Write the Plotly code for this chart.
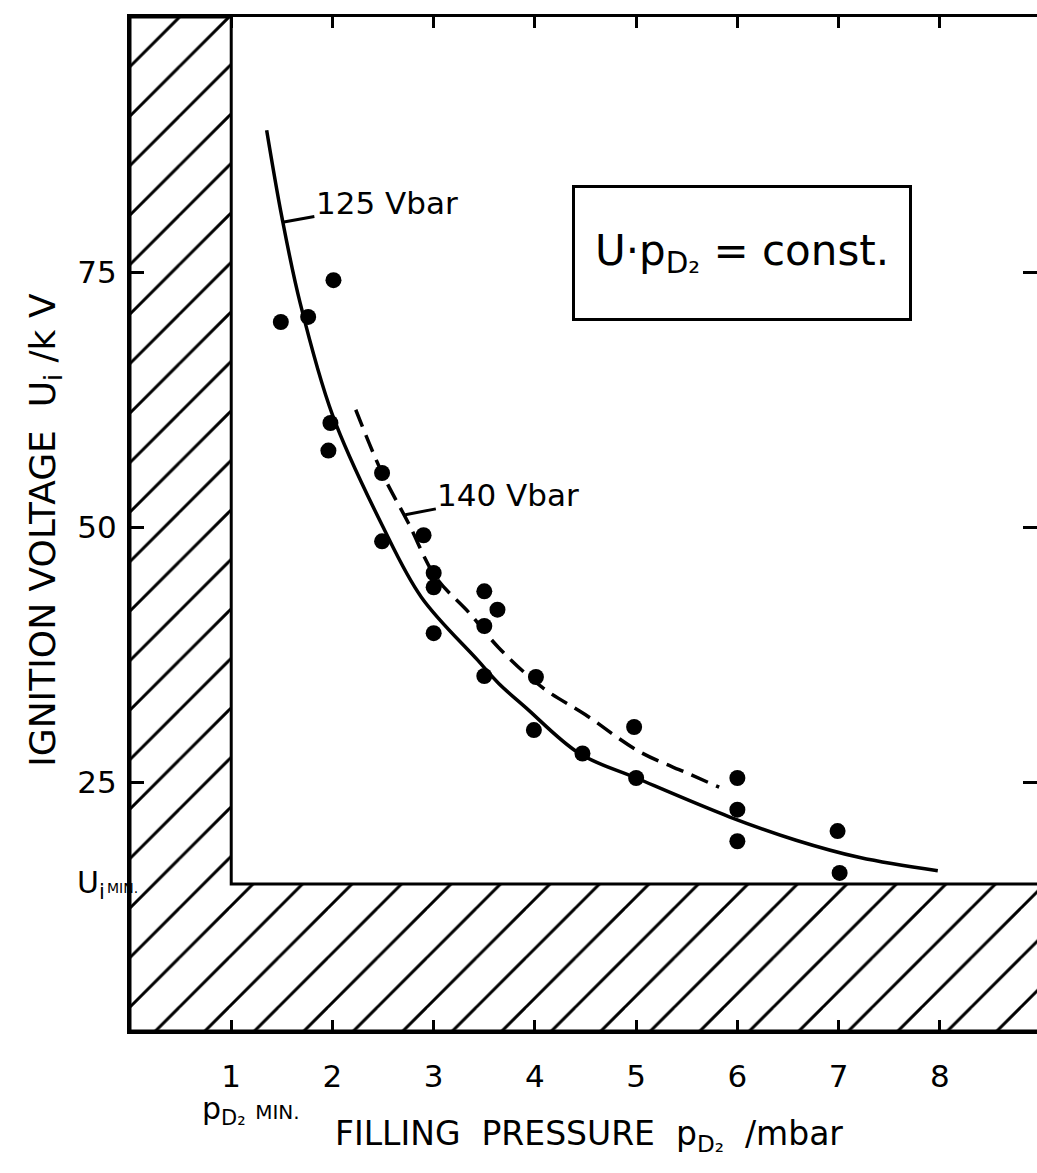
import plotly.graph_objects as go

# ---- data ----
meas_p = [1.49, 1.76, 2.01, 1.98, 1.96, 2.49, 2.49, 2.90, 3.00, 3.00, 3.00, 3.50, 3.63,
          3.50, 3.50, 4.01, 3.99, 4.47, 4.98, 5.00, 6.00, 6.00, 6.00, 6.99, 7.01]
meas_u = [70.1, 70.6, 74.2, 60.2, 57.5, 55.3, 48.6, 49.2, 45.5, 44.1, 39.6, 43.7, 41.9,
          40.3, 35.4, 35.3, 30.1, 27.8, 30.4, 25.4, 25.4, 22.3, 19.2, 20.2, 16.1]

curve125_p = [1.35, 1.50, 1.68, 2.00, 2.49, 2.88, 3.43, 3.64, 3.91, 4.44, 5.00, 5.92, 6.58, 7.21, 7.98]
curve125_u = [88.9, 80.4, 72.0, 61.0, 50.2, 43.1, 37.0, 34.7, 32.3, 27.8, 25.4, 21.6, 19.3, 17.6, 16.3]

curve140_p = [2.23, 2.49, 2.75, 3.02, 3.35, 3.64, 4.07, 4.50, 5.03, 5.50, 5.82]
curve140_u = [61.5, 55.3, 50.4, 45.1, 41.6, 38.2, 34.3, 31.6, 28.0, 25.9, 24.5]

x_ticks = [1, 2, 3, 4, 5, 6, 7, 8]
x_ticklabels = ["1", "2", "3", "4", "5", "6", "7", "8"]
y_ticks = [25, 50, 75]
y_ticklabels = ["25", "50", "75"]

P_MIN = 1.0      # p_D2 MIN
U_MIN = 15.0     # U_i MIN
X_RANGE = [0.0, 8.96]
Y_RANGE = [0.6, 100.0]

FONT = "DejaVu Sans"

fig = go.Figure()

# hatched forbidden region (L shape: p < p_min, U < U_min)
fig.add_trace(go.Scatter(
    x=[X_RANGE[0], X_RANGE[1] + 0.2, X_RANGE[1] + 0.2, P_MIN, P_MIN, X_RANGE[0], X_RANGE[0]],
    y=[Y_RANGE[0], Y_RANGE[0], U_MIN, U_MIN, Y_RANGE[1], Y_RANGE[1], Y_RANGE[0]],
    mode="lines", fill="toself",
    line=dict(color="black", width=3),
    fillcolor="rgba(0,0,0,0)",
    fillpattern=dict(shape="/", size=35, solidity=0.085, fgcolor="black", fgopacity=1,
                     bgcolor="white"),
    hoverinfo="skip", showlegend=False,
))

fig.add_trace(go.Scatter(
    x=curve125_p, y=curve125_u, mode="lines", line=dict(color="black", width=3.5, shape="spline"),
    showlegend=False,
))
fig.add_trace(go.Scatter(
    x=curve140_p, y=curve140_u, mode="lines",
    line=dict(color="black", width=3.5, shape="spline", dash="18px,9px"),
    showlegend=False,
))
fig.add_trace(go.Scatter(
    x=meas_p, y=meas_u, mode="markers",
    marker=dict(color="black", size=16, line=dict(width=0)),
    showlegend=False,
))
# invisible trace to carry the right-hand tick axis
fig.add_trace(go.Scatter(x=[None], y=[None], yaxis="y2", showlegend=False, hoverinfo="skip"))

tf = dict(family=FONT, size=31, color="black")

annotations = [
    dict(x=1.52, y=79.9, xref="x", yref="y", text="125 Vbar", showarrow=True,
         arrowhead=0, arrowwidth=3, arrowcolor="black", ax=103, ay=-19,
         font=dict(family=FONT, size=31, color="black")),
    dict(x=2.72, y=51.2, xref="x", yref="y", text="140 Vbar", showarrow=True,
         arrowhead=0, arrowwidth=3, arrowcolor="black", ax=103, ay=-20,
         font=dict(family=FONT, size=31, color="black")),
    dict(x=0.675, y=0.767, xref="paper", yref="paper", xanchor="center", yanchor="middle",
         text="U·p<sub>D₂</sub> = const.", showarrow=False,
         font=dict(family=FONT, size=42, color="black"),
         bordercolor="black", borderwidth=3, borderpad=0,
         width=334, height=130, align="center", valign="middle", bgcolor="white"),
    dict(x=-0.094, y=0.494, xref="paper", yref="paper", xanchor="center", yanchor="middle",
         textangle=-90, text="IGNITION VOLTAGE  U<sub>i</sub> /k V", showarrow=False,
         font=dict(family=FONT, size=36, color="black")),
    dict(x=0.506, y=-0.103, xref="paper", yref="paper", xanchor="center", yanchor="middle",
         text="FILLING  PRESSURE  p<sub>D₂</sub>  /mbar", showarrow=False,
         font=dict(family=FONT, size=33, color="black")),
    dict(x=-0.0606, y=U_MIN, xref="paper", yref="y", xanchor="left", yanchor="middle",
         text="U<sub>i</sub>", showarrow=False, font=dict(family=FONT, size=30, color="black")),
    dict(x=-0.028, y=U_MIN, xref="paper", yref="y", xanchor="left", yanchor="middle", yshift=-4,
         text="MIN.", showarrow=False, font=dict(family=FONT, size=14, color="black")),
    dict(x=1.2, y=-0.078, xref="x", yref="paper", xanchor="center", yanchor="middle",
         text="p<sub>D₂</sub> <span style='font-size:20px'>MIN.</span>", showarrow=False,
         font=dict(family=FONT, size=30, color="black")),
]

fig.update_layout(
    width=1037, height=1173,
    margin=dict(l=130, r=0, t=17, b=142),
    paper_bgcolor="white", plot_bgcolor="white",
    annotations=annotations,
    showlegend=False,
    yaxis2=dict(overlaying="y", side="right", range=Y_RANGE, tickvals=y_ticks,
                showticklabels=False, ticks="inside", ticklen=14, tickwidth=3,
                tickcolor="black", showline=False, showgrid=False, zeroline=False),
)
fig.update_xaxes(
    range=X_RANGE, tickvals=x_ticks, ticktext=x_ticklabels,
    ticks="inside", ticklen=11, tickwidth=3, tickcolor="black",
    showline=True, linewidth=3, linecolor="black", mirror="ticks",
    showgrid=False, zeroline=False, tickfont=tf, ticklabelstandoff=16,
)
fig.layout.yaxis.update(
    range=Y_RANGE, tickvals=y_ticks, ticktext=y_ticklabels,
    ticks="inside", ticklen=14, tickwidth=3, tickcolor="black",
    showline=True, linewidth=3, linecolor="black", mirror=False,
    showgrid=False, zeroline=False, tickfont=tf, ticklabelstandoff=4,
)

fig.write_html("out.html", config={"displayModeBar": False},
               post_script="document.body.style.margin='0';")
